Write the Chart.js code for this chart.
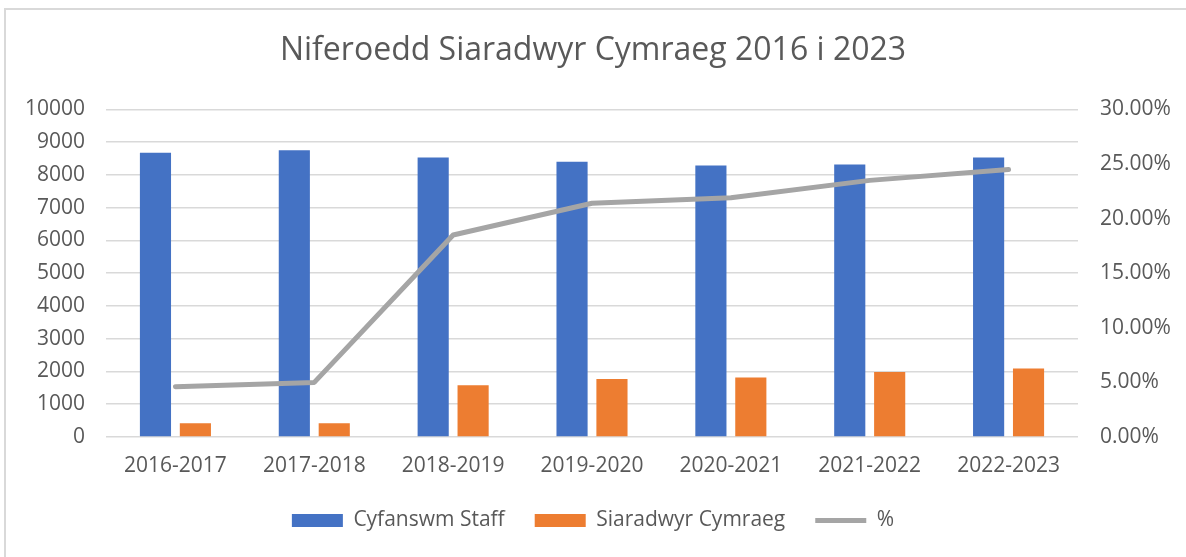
<!DOCTYPE html>
<html>
<head>
<meta charset="utf-8">
<script src="https://cdn.jsdelivr.net/npm/chart.js@4"></script>
<style>
  html, body { margin: 0; padding: 0; background: #ffffff; }
  #frame {
    position: absolute; left: 4px; top: 8px; width: 1300px; height: 700px;
    border-left: 2px solid #d9d9d9; border-top: 2px solid #d9d9d9;
  }
  #wrap { position: absolute; left: 0; top: 0; width: 1186px; height: 557px; }
</style>
</head>
<body>
<div id="frame"></div>
<div id="wrap"><canvas id="staff_chart"></canvas></div>
<script>
const year_labels = [
  "2016-2017",
  "2017-2018",
  "2018-2019",
  "2019-2020",
  "2020-2021",
  "2021-2022",
  "2022-2023"];

const total_staff    = [8680, 8750, 8530, 8400, 8290, 8320, 8530];
const welsh_speakers = [420, 420, 1580, 1770, 1815, 1985, 2090];
const percent_welsh  = [4.6, 5.0, 18.5, 21.4, 21.9, 23.5, 24.5];

const left_ticks_max = 10000;
const right_ticks_max = 30;

const text_grey = "#595959";
const font_name = "'Open Sans', sans-serif";

function contentLoaded() {
  new Chart(
    document.getElementById('staff_chart'),
    {
      type: 'bar',
      data: {
        labels: year_labels,
        datasets: [
          {
            type: 'line',
            label: '%',
            data: percent_welsh,
            yAxisID: 'y1',
            borderColor: "#A5A5A5",
            backgroundColor: "#A5A5A5",
            borderWidth: 5,
            borderCapStyle: 'round',
            borderJoinStyle: 'round',
            pointRadius: 0,
            pointStyle: 'line',
            order: 0
          },
          {
            label: 'Cyfanswm Staff',
            data: total_staff,
            yAxisID: 'y',
            backgroundColor: "#4472C4",
            pointStyle: 'rect',
            categoryPercentage: 0.575,
            barPercentage: 0.78,
            order: 1
          },
          {
            label: 'Siaradwyr Cymraeg',
            data: welsh_speakers,
            yAxisID: 'y',
            backgroundColor: "#ED7D31",
            pointStyle: 'rect',
            categoryPercentage: 0.575,
            barPercentage: 0.78,
            order: 2
          }
        ]
      },
      options: {
        responsive: true,
        maintainAspectRatio: false,
        animation: false,
        events: [],
        layout: {
          padding: { left: 10, right: 10, top: 0, bottom: 16 }
        },
        scales: {
          x: {
            grid: { display: false, drawTicks: false },
            border: { display: false },
            ticks: {
              color: text_grey,
              font: { family: font_name, size: 21 },
              padding: 16,
              maxRotation: 0
            },
            afterFit: function (scale) { scale.height = 43; }
          },
          y: {
            position: 'left',
            min: 0,
            max: left_ticks_max,
            grid: { color: "#D9D9D9", lineWidth: 1.5, drawTicks: false },
            border: { display: false },
            ticks: {
              stepSize: 1000,
              color: text_grey,
              font: { family: font_name, size: 21 },
              padding: 21,
              callback: function (v) { return String(v); }
            },
            afterFit: function (scale) { scale.width = 96; }
          },
          y1: {
            position: 'right',
            min: 0,
            max: right_ticks_max,
            grid: { display: false, drawTicks: false },
            border: { display: false },
            ticks: {
              stepSize: 5,
              color: text_grey,
              font: { family: font_name, size: 21 },
              padding: 22,
              callback: function (v) { return v.toFixed(2) + '%'; }
            },
            afterFit: function (scale) { scale.width = 98; }
          }
        },
        plugins: {
          title: {
            display: true,
            text: 'Niferoedd Siaradwyr Cymraeg 2016 i 2023',
            color: text_grey,
            font: { family: font_name, size: 32, weight: 'normal' },
            padding: { top: 32, bottom: 39 }
          },
          legend: {
            position: 'bottom',
            labels: {
              usePointStyle: true,
              pointStyleWidth: 51,
              boxHeight: 13,
              color: text_grey,
              font: { family: font_name, size: 21 },
              padding: 30,
              sort: function (a, b) { return b.datasetIndex === 0 ? -1 : (a.datasetIndex === 0 ? 1 : a.datasetIndex - b.datasetIndex); }
            }
          },
          tooltip: { enabled: false }
        }
      }
    });
}

document.addEventListener('DOMContentLoaded', contentLoaded, false);
</script>
</body>
</html>
